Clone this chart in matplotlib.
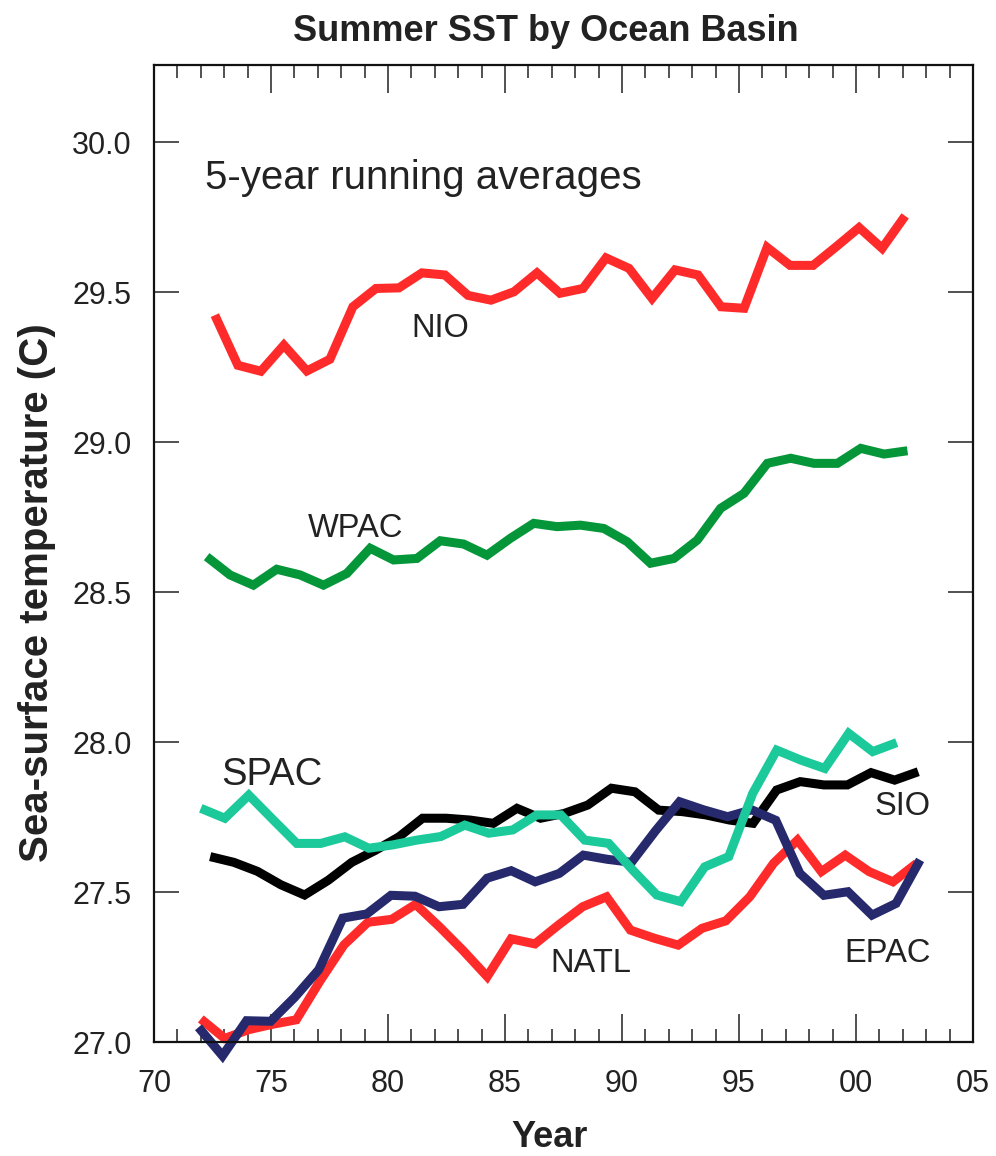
import numpy as np
import matplotlib
matplotlib.use("Agg")
import matplotlib.pyplot as plt
from matplotlib.ticker import FixedLocator, MultipleLocator

plt.rcParams['font.family'] = ['Liberation Sans', 'DejaVu Sans']

# ---- data (5-year running averages, deg C) ----
nio_years = np.linspace(72.6, 102.1, 31)
nio = [29.424, 29.257, 29.237, 29.324, 29.238, 29.277, 29.452, 29.513, 29.515, 29.565,
       29.558, 29.490, 29.474, 29.502, 29.565, 29.497, 29.513, 29.615, 29.580, 29.480,
       29.575, 29.558, 29.452, 29.447, 29.650, 29.590, 29.590, 29.652, 29.716, 29.647,
       29.755]

wpac_years = np.linspace(72.25, 102.2, 31)
wpac = [28.619, 28.558, 28.524, 28.577, 28.558, 28.524, 28.563, 28.647, 28.608, 28.613,
        28.672, 28.661, 28.624, 28.680, 28.730, 28.719, 28.724, 28.713, 28.669, 28.597,
        28.613, 28.674, 28.780, 28.830, 28.930, 28.947, 28.930, 28.930, 28.980, 28.961,
        28.972]

spac_years = np.linspace(72.0, 101.74, 30)
spac = [27.780, 27.747, 27.824, 27.743, 27.663, 27.663, 27.685, 27.647, 27.658, 27.674,
        27.686, 27.724, 27.697, 27.708, 27.758, 27.758, 27.674, 27.663, 27.574, 27.491,
        27.469, 27.585, 27.619, 27.830, 27.974, 27.941, 27.913, 28.030, 27.969, 27.999]

sio_years = np.linspace(72.4, 102.66, 31)
sio = [27.619, 27.600, 27.570, 27.525, 27.491, 27.540, 27.600, 27.640, 27.685, 27.747,
       27.747, 27.741, 27.730, 27.780, 27.747, 27.763, 27.791, 27.847, 27.835, 27.774,
       27.769, 27.758, 27.741, 27.730, 27.841, 27.869, 27.858, 27.858, 27.899, 27.874,
       27.902]

epac_years = np.linspace(71.9, 102.74, 31)
epac = [27.050, 26.955, 27.072, 27.070, 27.150, 27.242, 27.414, 27.428, 27.490, 27.487,
        27.452, 27.460, 27.547, 27.572, 27.535, 27.563, 27.624, 27.610, 27.600, 27.705,
        27.802, 27.775, 27.752, 27.775, 27.740, 27.563, 27.490, 27.502, 27.424, 27.463,
        27.608]

natl_years = np.linspace(72.0, 102.6, 31)
natl = [27.078, 27.013, 27.042, 27.060, 27.075, 27.205, 27.325, 27.400, 27.410, 27.460,
        27.385, 27.305, 27.219, 27.345, 27.328, 27.392, 27.452, 27.485, 27.374, 27.347,
        27.324, 27.380, 27.405, 27.485, 27.597, 27.674, 27.569, 27.624, 27.569, 27.535,
        27.597]

xtick_vals = [70, 75, 80, 85, 90, 95, 100, 105]
xtick_labels = ['70', '75', '80', '85', '90', '95', '00', '05']
ytick_vals = [27.0, 27.5, 28.0, 28.5, 29.0, 29.5, 30.0]
ytick_labels = ['27.0', '27.5', '28.0', '28.5', '29.0', '29.5', '30.0']

RED = '#FF2B2B'
GREEN = '#05963A'
TEAL = '#1CC99A'
NAVY = '#262A6C'
BLACK = '#000000'

W, H = 996, 1156
fig = plt.figure(figsize=(W / 100, H / 100), dpi=100)
ax = fig.add_axes([154 / W, 1 - 1042.3 / H, (973 - 154) / W, (1042.3 - 65) / H])

lw = 6.5
series = [
    (nio_years, nio, RED),
    (wpac_years, wpac, GREEN),
    (natl_years, natl, RED),
    (sio_years, sio, BLACK),
    (epac_years, epac, NAVY),
    (spac_years, spac, TEAL),
]
for xs, ys, c in series:
    ax.plot(xs, ys, color=c, lw=lw, solid_joinstyle='miter', solid_capstyle='butt',
            clip_on=False)

ax.set_xlim(70, 105)
ax.set_ylim(27.0, 30.258)

ax.xaxis.set_major_locator(FixedLocator(xtick_vals))
ax.set_xticklabels(xtick_labels)
ax.xaxis.set_minor_locator(MultipleLocator(1))
ax.yaxis.set_major_locator(FixedLocator(ytick_vals))
ax.set_yticklabels(ytick_labels)

ax.tick_params(axis='x', which='major', direction='in', length=20, width=1.1,
               top=True, bottom=True, labelsize=22, pad=19, colors='#222222')
ax.tick_params(axis='x', which='minor', direction='in', length=9.5, width=1.1,
               top=True, bottom=True, colors='#222222')
ax.tick_params(axis='y', which='major', direction='in', length=18, width=1.1,
               left=True, right=True, labelsize=22, pad=16, colors='#222222')
for sp in ax.spines.values():
    sp.set_linewidth(1.6)
    sp.set_color('#111111')

txt_kw = dict(color='#222222', fontsize=23.5)
ax.text(82.22, 29.351, 'NIO', ha='center', va='baseline', **txt_kw)
ax.text(78.63, 28.684, 'WPAC', ha='center', va='baseline', **txt_kw)
ax.text(75.04, 27.858, 'SPAC', ha='center', va='baseline', color='#222222', fontsize=27.5)
ax.text(101.97, 27.758, 'SIO', ha='center', va='baseline', **txt_kw)
ax.text(88.68, 27.234, 'NATL', ha='center', va='baseline', **txt_kw)
ax.text(101.37, 27.268, 'EPAC', ha='center', va='baseline', **txt_kw)
ax.text(72.18, 29.844, '5-year running averages', ha='left', va='baseline',
        color='#222222', fontsize=29)

fig.text(546 / W, 1 - 41 / H, 'Summer SST by Ocean Basin', ha='center', va='baseline',
         fontsize=26, fontweight='bold', color='#222222')
fig.text(550 / W, 1 - 1147 / H, 'Year', ha='center', va='baseline',
         fontsize=26, fontweight='bold', color='#222222')
fig.text(37 / W, 1 - 593 / H, 'Sea-surface temperature (C)', ha='center', va='center',
         rotation=90, fontsize=29, fontweight='bold', color='#222222')

fig.savefig('out.png', dpi=100)
